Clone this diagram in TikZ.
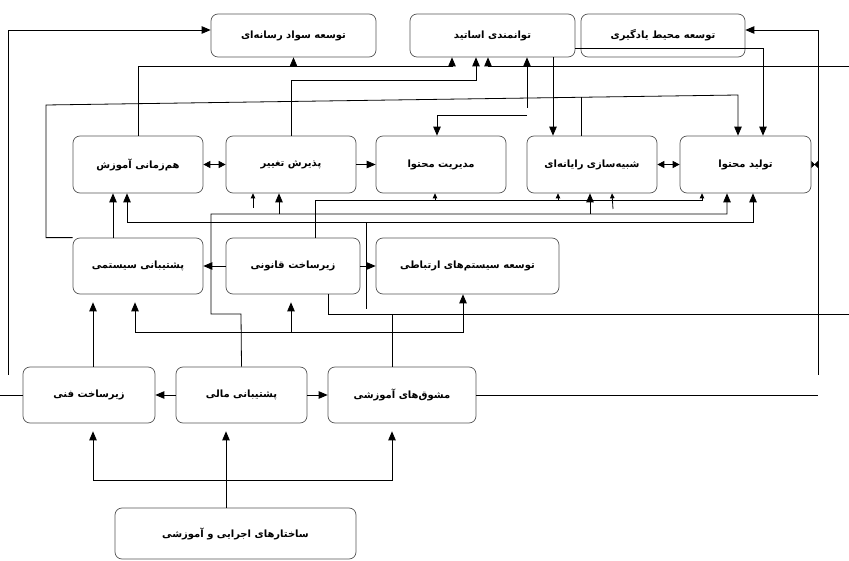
\documentclass[tikz,border=0pt]{standalone}
\usepackage{fontspec}
\usepackage{tikz}
\usepackage{xcolor}
\usetikzlibrary{arrows.meta}
\TeXXeTstate=1
\newfontfamily\fafont[Script=Arabic, BoldFont={DejaVu Sans Bold}]{DejaVu Sans}
\newcommand{\fa}[1]{{\fafont\bfseries\fontsize{10}{12}\selectfont\beginR #1\endR}}
\definecolor{BoxLine}{HTML}{555555}

\tikzset{
  boxnode/.style={
    draw=BoxLine,
    rounded corners=7pt,
    line width=0.7pt,
    inner sep=0pt,
    align=center
  },
  conn/.style={draw, line width=0.8pt},
  arr/.style={conn, -{Triangle[length=9pt,width=7.5pt]}},
  sarr/.style={conn, -{Triangle[length=5pt,width=4.5pt]}},
  darr/.style={conn, {Triangle[length=7pt,width=7pt]}-{Triangle[length=7pt,width=7pt]}},
  bowtie/.style={conn, {Triangle[reversed,length=3.5pt,width=7pt]}-{Triangle[reversed,length=3.5pt,width=7pt]}},
  gap/.style={shorten >=8pt}
}

\begin{document}
\begin{tikzpicture}[x=1pt, y=-1pt]
  \useasboundingbox (0,0) rectangle (849,561);

  % top row
  \node[boxnode, minimum width=165pt, minimum height=43pt] (media) at (293.5,35.5) {\fa{توسعه سواد رسانه‌ای}};
  \node[boxnode, minimum width=165pt, minimum height=43pt] (faculty) at (492.5,35.5) {\fa{توانمندی اساتید}};
  \node[boxnode, minimum width=164pt, minimum height=43pt] (learnenv) at (663,35.5) {\fa{توسعه محیط یادگیری}};

  % second row
  \node[boxnode, minimum width=130pt, minimum height=57pt] (sync) at (138,164.5) {\fa{هم‌زمانی آموزش}};
  \node[boxnode, minimum width=130pt, minimum height=57pt] (change) at (291,164.5) {\fa{پذیرش تغییر}};
  \node[boxnode, minimum width=130pt, minimum height=57pt] (content) at (441,164.5) {\fa{مدیریت محتوا}};
  \node[boxnode, minimum width=130pt, minimum height=57pt] (simul) at (592,164.5) {\fa{شبیه‌سازی رایانه‌ای}};
  \node[boxnode, minimum width=131pt, minimum height=57pt] (produce) at (745.5,164.5) {\fa{تولید محتوا}};

  % third row
  \node[boxnode, minimum width=130pt, minimum height=56pt] (syssup) at (138,266) {\fa{پشتیبانی سیستمی}};
  \node[boxnode, minimum width=134pt, minimum height=56pt] (legal) at (293,266) {\fa{زیرساخت قانونی}};
  \node[boxnode, minimum width=183pt, minimum height=56pt] (comms) at (467.5,266) {\fa{توسعه سیستم‌های ارتباطی}};

  % fourth row
  \node[boxnode, minimum width=132pt, minimum height=56pt] (tech) at (89,395) {\fa{زیرساخت فنی}};
  \node[boxnode, minimum width=131pt, minimum height=56pt] (finance) at (241.5,395) {\fa{پشتیبانی مالی}};
  \node[boxnode, minimum width=148pt, minimum height=56pt] (incent) at (402,395) {\fa{مشوق‌های آموزشی}};

  % base
  \node[boxnode, minimum width=241pt, minimum height=51pt] (struct) at (235.5,533.5) {\fa{ساختارهای اجرایی و آموزشی}};

  % free ends and junctions
  \coordinate (lftend) at (8,375);
  \coordinate (rgtend) at (818,375);
  \coordinate (edgeL) at (0,395);
  \coordinate (edgeTop) at (849,66);
  \coordinate (edgeMid) at (849,314);
  \coordinate (facA) at (527,108);
  \coordinate (facB) at (527,115);
  \coordinate (legalBus) at (366,309);
  \coordinate (lowBus) at (291,332);
  \coordinate (baseBus) at (226,480);

  % outer frame lines
  \draw[arr] (lftend) |- (media.west |- 0,30);
  \draw[conn] (tech.west) -- (edgeL);
  \draw[arr] (rgtend) |- (learnenv.east |- 0,30);
  \draw[conn] (incent.east) -- (rgtend |- incent.east);
  \draw[bowtie] (produce.east) -- (rgtend |- produce.east);

  % into the top row
  \draw[arr] (sync.north) -- (sync.north |- 0,66) -| (452,0 |- faculty.south);
  \draw[arr] (media.south |- 0,66) -- (media.south);
  \draw[arr] (change.north) -- (change.north |- 0,80) -| (476,0 |- faculty.south);
  \draw[arr] (edgeTop) -| (488,0 |- faculty.south);
  \draw[arr] (facA) -- (facA |- faculty.south);
  \draw[arr] (facB) -| (437,0 |- content.north);
  \draw[arr] (553,0 |- faculty.south) -- (553,0 |- simul.north);
  \draw[arr] (faculty.east |- 0,48) -| (763,0 |- produce.north);
  \draw[arr] (syssup.north west) -- (46,0 |- syssup.north west) -- (46,105) -- (738,95) -- (738,0 |- produce.north);
  \draw[conn] (581,0 |- simul.north) -- (581,97.3);

  % second row
  \draw[darr] (sync.east) -- (change.west);
  \draw[arr] (change.east) -- (content.west);
  \draw[darr] (simul.east) -- (produce.west);

  % buses under the second row
  \draw[sarr] (315,0 |- legal.north) -- (315,200) -| (702,0 |- produce.south);
  \draw[sarr] (435,200) -- (435,0 |- content.south);
  \draw[sarr] (558,200) -- (558,0 |- simul.south);
  \draw[arr] (finance.north) -- (241,314) -- (211,314) -- (211,214) -| (727,0 |- produce.south);
  \draw[arr] (279,214) -- (279,0 |- change.south);
  \draw[arr] (590,214) -- (590,0 |- simul.south);
  \draw[arr] (legalBus) |- (127,222) -- (127,0 |- sync.south);
  \draw[arr] (366,222) -| (753,0 |- produce.south);
  \draw[sarr] (253,208) -- (253,0 |- change.south);
  \draw[sarr] (613,209) -- (612,0 |- simul.south);
  \draw[arr] (113,0 |- syssup.north) -- (113,0 |- sync.south);

  % third row
  \draw[arr] (legal.west) -- (syssup.east);
  \draw[arr] (legal.east) -- (comms.west);
  \draw[arr, gap] (lowBus) -| (135,0 |- syssup.south);
  \draw[arr, gap] (lowBus) -- (291,0 |- legal.south);
  \draw[arr] (lowBus) -| (463,0 |- comms.south);
  \draw[conn] (328,0 |- legal.south) |- (edgeMid);
  \draw[conn] (392,0 |- incent.north) -- (392,314);

  % fourth row
  \draw[arr, gap] (93,0 |- tech.north) -- (93,0 |- syssup.south);
  \draw[arr] (finance.west) -- (tech.east);
  \draw[arr] (finance.east) -- (incent.west);
  \draw[conn] (baseBus |- struct.north) -- (baseBus);
  \draw[arr, gap] (baseBus) -| (93,0 |- tech.south);
  \draw[arr, gap] (baseBus) -- (baseBus |- finance.south);
  \draw[arr, gap] (baseBus) -| (392,0 |- incent.south);
\end{tikzpicture}
\end{document}
